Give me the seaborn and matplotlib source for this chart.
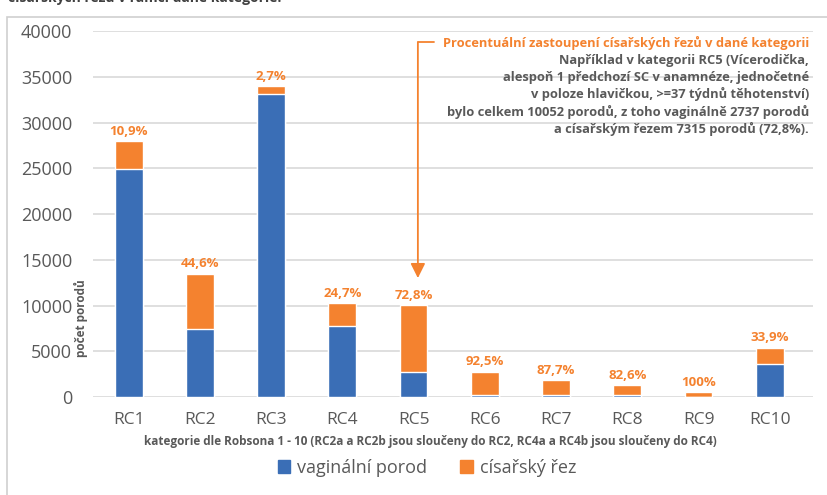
import numpy as np
import pandas as pd
import matplotlib
matplotlib.use("Agg")
import matplotlib.pyplot as plt
import matplotlib.patches as mpatches
import seaborn as sns

# data
categories = ["RC1", "RC2", "RC3", "RC4", "RC5", "RC6", "RC7", "RC8", "RC9", "RC10"]
vaginal = [24950, 7480, 33080, 7760, 2737, 210, 230, 220, 0, 3570]
cesarean = [3050, 6020, 920, 2550, 7315, 2560, 1630, 1060, 520, 1830]
pct_labels = ["10,9%", "44,6%", "2,7%", "24,7%", "72,8%", "92,5%", "87,7%", "82,6%", "100%", "33,9%"]

BLUE = "#3a6eb6"
ORANGE = "#f4822f"
GRAY = "#595959"

df = pd.DataFrame({"kat": categories, "vag": vaginal, "cs": cesarean})
df["total"] = df["vag"] + df["cs"]

sns.set_theme(style="white")
plt.rcParams["font.family"] = ["Open Sans", "DejaVu Sans"]

fig = plt.figure(figsize=(8.27, 4.95), dpi=100)
ax = fig.add_axes([0.1125, 0.198, 0.87, 0.739])

# stacked bars: total in orange, vaginal over it in blue
sns.barplot(data=df, x="kat", y="total", color=ORANGE, width=0.39,
            saturation=1, ax=ax, zorder=2)
sns.barplot(data=df, x="kat", y="vag", color=BLUE, width=0.39,
            saturation=1, ax=ax, zorder=3)

ax.set_ylim(0, 40000)
ax.set_xlim(-0.5, 9.6)
ax.set_yticks(np.arange(0, 40001, 5000))
ax.yaxis.grid(True, color="#d9d9d9", linewidth=1.2, zorder=0)
ax.set_axisbelow(True)
for s in ax.spines.values():
    s.set_visible(False)
ax.tick_params(axis="y", labelsize=13, labelcolor=GRAY, pad=15, length=0)
ax.tick_params(axis="x", labelsize=12.5, labelcolor=GRAY, pad=11, length=0)
ax.set_xlabel("")
ax.set_ylabel("")

# percentage of cesarean sections above each bar
for i, (t, lab) in enumerate(zip(df["total"], pct_labels)):
    ax.text(i, t + 350, lab, ha="center", va="bottom", color=ORANGE,
            fontsize=9.5, fontweight="bold")

# callout arrow pointing at RC5
ax.annotate("", xy=(4.06, 13000), xytext=(4.06, 38800),
            arrowprops=dict(arrowstyle="-|>", color=ORANGE, lw=1.3,
                            mutation_scale=22, shrinkA=0, shrinkB=0))
ax.plot([4.06, 4.28], [38800, 38800], color=ORANGE, lw=1.3, clip_on=False)

ax.text(0.995, 0.967, "Procentuální zastoupení císařských řezů v dané kategorii",
        transform=ax.transAxes, ha="right", va="center", color=ORANGE,
        fontsize=9.3, fontweight="bold")
note = ("Například v kategorii RC5 (Vícerodička,\n"
        "alespoň 1 předchozí SC v anamnéze, jednočetné\n"
        "v poloze hlavičkou, >=37 týdnů těhotenství)\n"
        "bylo celkem 10052 porodů, z toho vaginálně 2737 porodů\n"
        "a císařským řezem 7315 porodů (72,8%).")
ax.text(0.995, 0.937, note, transform=ax.transAxes, ha="right", va="top",
        color=GRAY, fontsize=9.3, fontweight="bold", linespacing=1.33)

fig.text(81 / 827, 1 - 318 / 495, "počet porodů", rotation=90, ha="center",
         va="center", color=GRAY, fontsize=8.5, fontweight="bold")
fig.text(430 / 827, 1 - 442 / 495,
         "kategorie dle Robsona 1 - 10 (RC2a a RC2b jsou sloučeny do RC2, RC4a a RC4b jsou sloučeny do RC4)",
         ha="center", va="center", color=GRAY, fontsize=8.5, fontweight="bold")

handles = [mpatches.Patch(color=BLUE, label="vaginální porod"),
           mpatches.Patch(color=ORANGE, label="císařský řez")]
fig.legend(handles=handles, loc="center", bbox_to_anchor=(427 / 827, 1 - 468 / 495),
           ncol=2, frameon=False, fontsize=13, handlelength=0.7, handleheight=0.7,
           handletextpad=0.4, columnspacing=1.8, labelcolor=GRAY)

# outer frame and cut-off title line at the very top
fig.patches.append(mpatches.Rectangle((7 / 827, -0.2), 1.2, 1.2 - 17 / 495,
                                      transform=fig.transFigure, fill=False,
                                      edgecolor="#cfcfcf", linewidth=1.2))
fig.text(8 / 827, 1.006, "císařských řezů v rámci dané kategorie.", ha="left",
         va="center", color="#404040", fontsize=10, fontweight="bold")

fig.savefig("out.png", dpi=100)
